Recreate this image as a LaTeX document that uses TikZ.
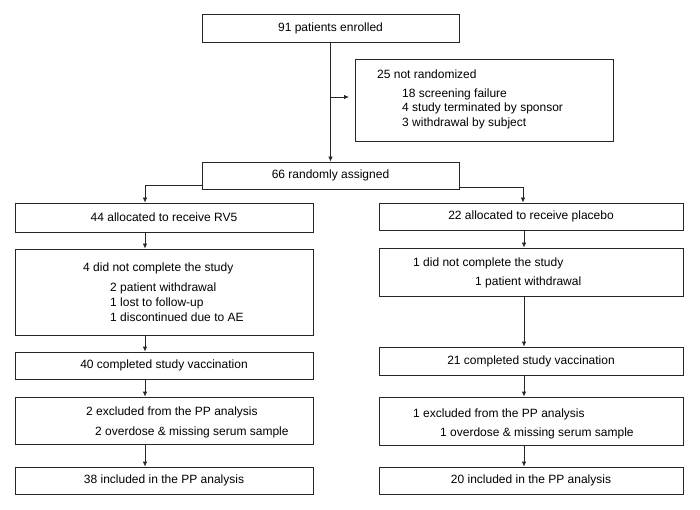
\documentclass[tikz,border=0pt]{standalone}
\usepackage{fontspec}
\setmainfont{Liberation Sans}
\usetikzlibrary{arrows.meta}
\begin{document}
\begin{tikzpicture}[x=1pt,y=-1pt,
  box/.style={draw=black!85,line width=0.8pt,rectangle,inner sep=0pt,font=\fontsize{12}{14}\selectfont},
  txt/.style={anchor=west,inner sep=0pt,font=\fontsize{12}{14}\selectfont},
  arr/.style={draw=black!85,line width=0.8pt,-{Latex[length=5pt,width=4.5pt]}},
  ln/.style={draw=black!85,line width=0.8pt}]
\useasboundingbox (0,0) rectangle (700,510);
% boxes
\node[box,minimum width=257pt,minimum height=28pt] (enr) at (330.5,28) {91 patients enrolled};
\node[box,minimum width=258pt,minimum height=82pt] (notr) at (484,100) {};
\node[box,minimum width=257pt,minimum height=27pt] (rand) at (330.5,175.5) {66 randomly assigned};
\node[box,minimum width=298pt,minimum height=29pt] (L1) at (164,217.5) {44 allocated to receive RV5};
\node[box,minimum width=298pt,minimum height=86pt] (L2) at (164,292) {};
\node[box,minimum width=298pt,minimum height=27pt] (L3) at (164,365.5) {40 completed study vaccination};
\node[box,minimum width=298pt,minimum height=47pt] (L4) at (164,420.5) {};
\node[box,minimum width=298pt,minimum height=27pt] (L5) at (164,480.5) {38 included in the PP analysis};
\node[box,minimum width=304pt,minimum height=27pt] (R1) at (531,216.5) {22 allocated to receive placebo};
\node[box,minimum width=304pt,minimum height=48pt] (R2) at (531,272) {};
\node[box,minimum width=304pt,minimum height=28pt] (R3) at (531,361) {21 completed study vaccination};
\node[box,minimum width=304pt,minimum height=48pt] (R4) at (531,421) {};
\node[box,minimum width=304pt,minimum height=27pt] (R5) at (531,480.5) {20 included in the PP analysis};
% texts
\node[txt] (t1) at (377,74) {25 not randomized};
\node[txt] (t2) at (402,94) {18 screening failure};
\node[txt] (t3) at (402,108.7) {4 study terminated by sponsor};
\node[txt] (t4) at (402,123.3) {3 withdrawal by subject};
\node[txt] (t5) at (83,268) {4 did not complete the study};
\node[txt] (t6) at (110,288) {2 patient withdrawal};
\node[txt] (t7) at (110,303) {1 lost to follow-up};
\node[txt] (t8) at (110,317) {1 discontinued due to AE};
\node[txt] (t9) at (86,412) {2 excluded from the PP analysis};
\node[txt] (t10) at (95,432) {2 overdose \& missing serum sample};
\node[txt] (t11) at (413,263) {1 did not complete the study};
\node[txt] (t12) at (475,282) {1 patient withdrawal};
\node[txt] (t13) at (413,414) {1 excluded from the PP analysis};
\node[txt] (t14) at (440,433) {1 overdose \& missing serum sample};
% coordinates
\coordinate (side) at (330.5,97);
\coordinate (sideend) at (349,97);
\coordinate (jl) at (145,185);
\coordinate (jr) at (523,187);
\coordinate (xr) at (524,0);
% connectors
\draw[arr] (enr) -- (rand);
\draw[arr] (side) -- (sideend);
\draw[arr] (rand.west |- jl) -| (L1.north -| jl);
\draw[arr] (rand.east |- jr) -| (R1.north -| jr);
\draw[arr] (L1.south -| jl) -- (L2.north -| jl);
\draw[arr] (L2.south -| jl) -- (L3.north -| jl);
\draw[arr] (L3.south -| jl) -- (L4.north -| jl);
\draw[arr] (L4.south -| jl) -- (L5.north -| jl);
\draw[arr] (R1.south -| xr) -- (R2.north -| xr);
\draw[arr] (R2.south -| xr) -- (R3.north -| xr);
\draw[arr] (R3.south -| xr) -- (R4.north -| xr);
\draw[arr] (R4.south -| xr) -- (R5.north -| xr);
\end{tikzpicture}
\end{document}
